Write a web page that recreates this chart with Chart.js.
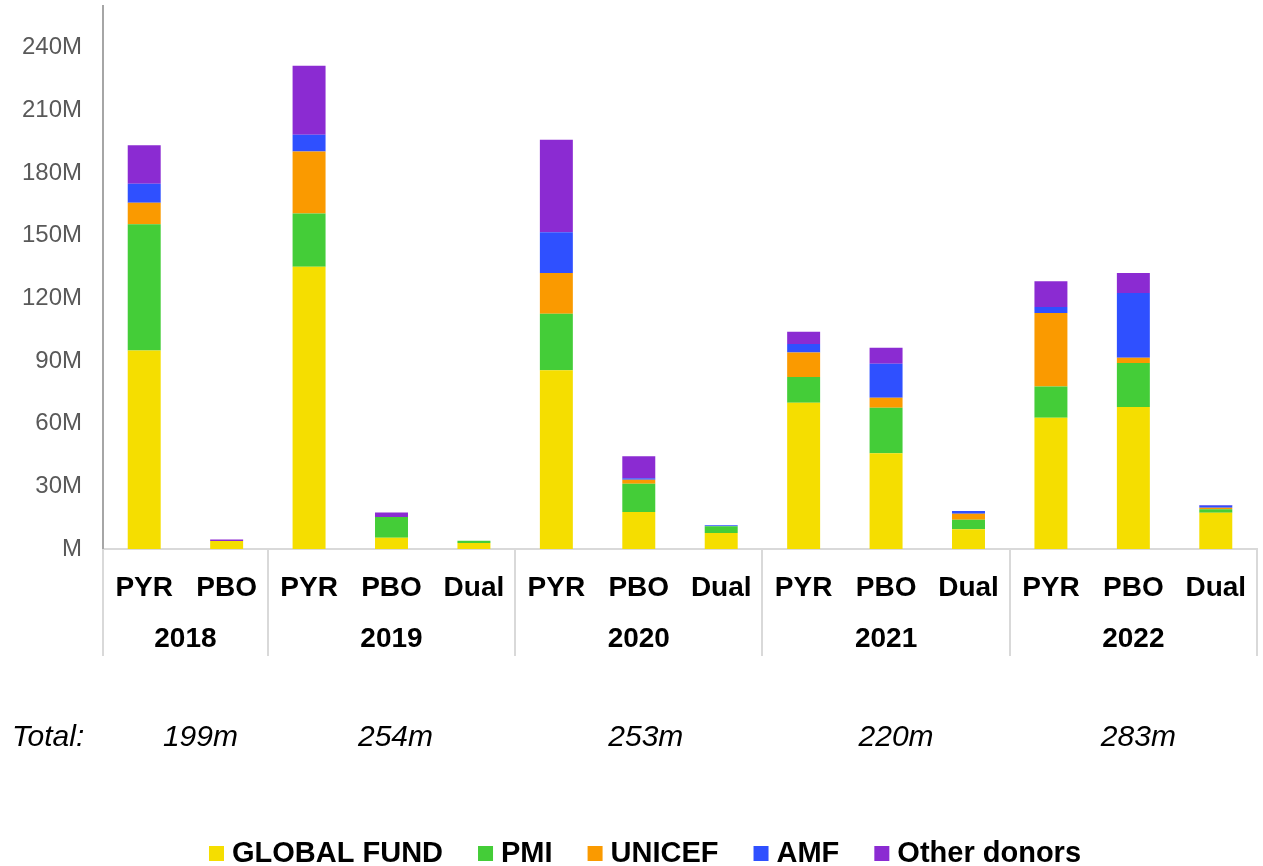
<!DOCTYPE html>
<html>
<head>
<meta charset="utf-8">
<script src="https://cdn.jsdelivr.net/npm/chart.js@4.4.1/dist/chart.umd.min.js"></script>
<style>
html, body { margin: 0; padding: 0; background: #ffffff; }
#wrap { position: relative; width: 1263px; height: 866px; }
canvas { display: block; }
</style>
</head>
<body>
<div id="wrap"><canvas id="c" width="1263" height="866"></canvas></div>
<script>
// ---- Data (values in millions) ----
const categories = ['PYR','PBO','PYR','PBO','Dual','PYR','PBO','Dual','PYR','PBO','Dual','PYR','PBO','Dual'];
const years = ['2018','2019','2020','2021','2022'];
const yearSpans = [2, 3, 3, 3, 3];
const totals = ['199m','254m','253m','220m','283m'];
const totalLabel = 'Total:';
const seriesNames = ['GLOBAL FUND','PMI','UNICEF','AMF','Other donors'];
const globalFund = [95.0, 3.8, 135.1, 5.4, 2.9, 85.6, 17.7, 7.7, 70.0, 45.9, 9.4, 62.8, 68.0, 17.4];
const pmi        = [60.5, 0.0, 25.5, 9.9, 1.0, 27.0, 13.6, 3.2, 12.3, 21.7, 4.6, 15.0, 21.1, 1.6];
const unicef     = [10.3, 0.0, 29.7, 0.0, 0.0, 19.5, 1.8, 0.0, 11.8, 4.8, 2.9, 35.2, 2.5, 0.8];
const amf        = [9.1, 0.0, 8.0, 0.0, 0.0, 19.6, 0.8, 0.5, 4.0, 16.3, 1.3, 2.9, 31.0, 1.0];
const otherDonors= [18.4, 0.8, 33.1, 2.2, 0.0, 44.2, 10.5, 0.0, 5.9, 7.7, 0.0, 12.3, 9.6, 0.3];
const yTickStep = 30;
const yMax = 260;

// ---- Styles ----
const FONT = '"Liberation Sans", Arial, Helvetica, sans-serif';
const colors = ['#F5DE00', '#44CD38', '#FA9A00', '#2F50FF', '#8B2BD2'];
const seriesData = [globalFund, pmi, unicef, amf, otherDonors];

const groupPlugin = {
  id: 'groupPlugin',
  afterDraw(chart) {
    const ctx = chart.ctx;
    const xs = chart.scales.x;
    const area = chart.chartArea;
    const n = categories.length;
    const bounds = [area.left];
    const centers = [];
    let idx = 0;
    yearSpans.forEach(span => {
      const start = idx;
      idx += span;
      const end = idx;
      const l = start === 0 ? area.left : (xs.getPixelForTick(start - 1) + xs.getPixelForTick(start)) / 2;
      const r = end === n ? area.right : (xs.getPixelForTick(end - 1) + xs.getPixelForTick(end)) / 2;
      centers.push((l + r) / 2);
      bounds.push(r);
    });
    ctx.save();
    // separators
    ctx.strokeStyle = '#D9D9D9';
    ctx.lineWidth = 2;
    bounds.forEach(b => {
      ctx.beginPath();
      ctx.moveTo(Math.round(b), area.bottom);
      ctx.lineTo(Math.round(b), 656);
      ctx.stroke();
    });
    // year labels
    ctx.fillStyle = '#000000';
    ctx.font = 'bold 28px ' + FONT;
    ctx.textAlign = 'center';
    ctx.textBaseline = 'alphabetic';
    years.forEach((y, i) => ctx.fillText(y, centers[i], 647));
    // totals
    const nudge = [15, 4, 7, 10, 5];
    ctx.font = 'italic 30px ' + FONT;
    ctx.textAlign = 'left';
    ctx.fillText(totalLabel, 12, 746);
    ctx.textAlign = 'center';
    totals.forEach((t, i) => ctx.fillText(t, centers[i] + nudge[i], 746));
    // legend
    ctx.font = 'bold 29px ' + FONT;
    const box = 15, gapText = 8, gapItem = 35;
    const widths = seriesNames.map(s => box + gapText + ctx.measureText(s).width);
    const total = widths.reduce((a, b) => a + b, 0) + gapItem * (seriesNames.length - 1);
    let x = 645 - total / 2;
    ctx.textAlign = 'left';
    seriesNames.forEach((s, i) => {
      ctx.fillStyle = colors[i];
      ctx.fillRect(x, 846, box, 15);
      ctx.fillStyle = '#000000';
      ctx.fillText(s, x + box + gapText, 862);
      x += widths[i] + gapItem;
    });
    ctx.restore();
  }
};

const datasets = seriesNames.map((name, i) => ({
  label: name,
  data: seriesData[i],
  backgroundColor: colors[i],
  borderWidth: 0,
  barPercentage: 0.4,
  categoryPercentage: 1.0
}));

new Chart(document.getElementById('c'), {
  type: 'bar',
  data: { labels: categories, datasets: datasets },
  options: {
    responsive: false,
    animation: false,
    devicePixelRatio: 1,
    layout: { padding: { top: 6, right: 6, left: 0, bottom: 0 } },
    plugins: { legend: { display: false }, tooltip: { enabled: false } },
    scales: {
      x: {
        stacked: true,
        grid: { display: false, drawTicks: false },
        border: { display: true, color: '#D9D9D9', width: 2 },
        ticks: {
          autoSkip: false, maxRotation: 0, minRotation: 0,
          color: '#000000',
          font: { family: FONT, size: 28, weight: 'bold' },
          padding: 22
        },
        afterFit(scale) { scale.height = 317; scale.paddingLeft = 0; scale.paddingRight = 0; }
      },
      y: {
        stacked: true,
        min: 0,
        max: yMax,
        grid: { display: false, drawTicks: false },
        border: { display: true, color: '#A6A6A6', width: 2 },
        ticks: {
          stepSize: yTickStep,
          includeBounds: false,
          color: '#595959',
          font: { family: FONT, size: 24 },
          padding: 21,
          callback: v => (v === 0 ? 'M' : v + 'M')
        },
        afterFit(scale) { scale.width = 103; scale.paddingTop = 0; scale.paddingBottom = 0; }
      }
    }
  },
  plugins: [groupPlugin]
});
</script>
</body>
</html>
